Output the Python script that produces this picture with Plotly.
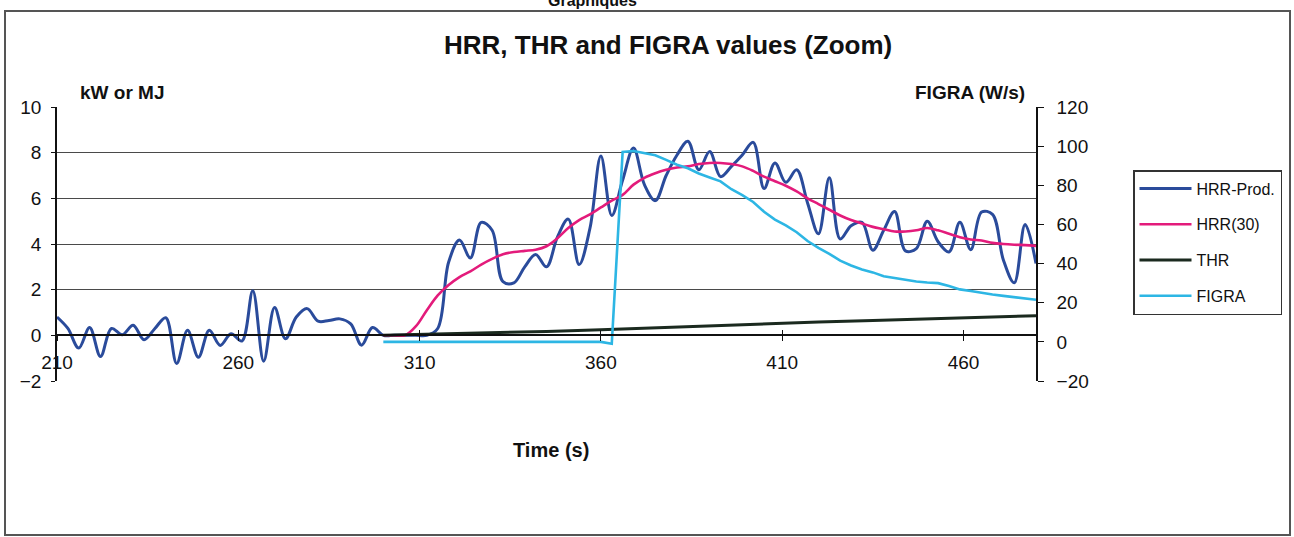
import plotly.graph_objects as go

# ---------------- data ----------------
t_hrr = list(range(210, 481, 3))
hrr_prod = [0.8, 0.3, -0.56, 0.34, -0.93, 0.3, 0.03, 0.44, -0.19, 0.3,
            0.77, -1.23, 0.22, -0.96, 0.22, -0.44, 0.07, -0.25, 1.95, -1.13,
            1.22, -0.15, 0.8, 1.17, 0.62, 0.65, 0.72, 0.5, -0.43, 0.34,
            0.0, 0.0, 0.0, 0.0, 0.0, 0.3, 3.2, 4.17, 3.39, 4.95,
            4.6, 2.35, 2.3, 3.0, 3.54, 3.0, 4.3, 5.09, 3.1, 4.7,
            7.85, 5.25, 6.8, 8.2, 6.6, 5.9, 7.0, 7.9, 8.5, 7.25,
            8.05, 6.95, 7.4, 7.9, 8.45, 6.43, 7.55, 6.7, 7.25, 5.8,
            4.45, 6.9, 4.22, 4.8, 4.95, 3.73, 4.6, 5.42, 3.7, 3.8,
            5.0, 4.1, 3.65, 4.95, 3.75, 5.4, 5.3, 3.3, 2.3, 4.85, 3.15]

t_30 = list(range(300, 481, 3))
hrr_30 = [0.0, 0.0, 0.0, 0.4, 1.1, 1.75, 2.2, 2.55, 2.8, 3.1,
          3.35, 3.55, 3.65, 3.7, 3.75, 3.9, 4.25, 4.7, 5.05, 5.3,
          5.6, 5.9, 6.15, 6.6, 6.9, 7.1, 7.25, 7.35, 7.4, 7.5,
          7.55, 7.55, 7.5, 7.4, 7.2, 6.95, 6.75, 6.55, 6.3, 6.0,
          5.75, 5.5, 5.25, 5.05, 4.9, 4.75, 4.65, 4.55, 4.55, 4.6,
          4.7, 4.6, 4.45, 4.3, 4.2, 4.15, 4.05, 4.0, 3.97, 3.95, 3.92]

t_thr = list(range(300, 481, 15))
thr = [0.0, 0.05, 0.1, 0.17, 0.24, 0.33, 0.42, 0.5, 0.58, 0.65, 0.72, 0.79, 0.86]

t_figra = list(range(300, 481, 3))
figra = [0, 0, 0, 0, 0, 0, 0, 0, 0, 0,
         0, 0, 0, 0, 0, 0, 0, 0, 0, 0,
         0, -1, 97, 97.5, 96.5, 95.3, 93, 90.5, 88.7, 86,
         84, 82, 78, 75, 71.5, 66.5, 62.5, 59.5, 56, 51.5,
         48, 45, 41.5, 39, 37, 35.5, 33.5, 32.5, 31.5, 30.8,
         30.3, 30, 28.5, 26.8, 26, 25, 24.2, 23.5, 22.8, 22.2, 21.5]

x_range = [210, 480]
y_left_range = [-2, 10]
y_right_range = [-20, 120]

# ---------------- layout geometry ----------------
W, H = 1294, 537
L, R, T, B = 57, 258, 107, 156
PW, PH = W - L - R, H - T - B


def px(x):
    return (x - L) / PW


def py(y):
    return (H - B - y) / PH


FONT = "Liberation Sans, Arial, sans-serif"

fig = go.Figure()
fig.add_trace(go.Scatter(x=t_hrr, y=hrr_prod, name="HRR-Prod.", mode="lines",
                         line=dict(color="#2a4b9b", width=3, shape="spline", smoothing=1.0),
                         legendgroup="a"))
fig.add_trace(go.Scatter(x=t_30, y=hrr_30, name="HRR(30)", mode="lines",
                         line=dict(color="#e31b7b", width=2.6, shape="spline", smoothing=1.0),
                         legendgroup="b"))
fig.add_trace(go.Scatter(x=t_thr, y=thr, name="THR", mode="lines",
                         line=dict(color="#1b2a1f", width=3), legendgroup="c"))
fig.add_trace(go.Scatter(x=t_figra, y=figra, name="FIGRA", mode="lines", yaxis="y2",
                         line=dict(color="#2db6e4", width=2.6), legendgroup="d"))

zero_pos = (0 - y_left_range[0]) / (y_left_range[1] - y_left_range[0])

fig.update_layout(
    width=W, height=H,
    margin=dict(l=L, r=R, t=T, b=B),
    paper_bgcolor="white", plot_bgcolor="white",
    font=dict(family=FONT, color="#111111", size=19),
    showlegend=True,
    legend=dict(xref="container", yref="container", x=1133 / W, y=1 - 170 / H,
                xanchor="left", yanchor="top", bordercolor="#333333", borderwidth=1.5,
                font=dict(size=16, family=FONT), traceorder="grouped", tracegroupgap=12,
                itemwidth=52, bgcolor="white"),
    xaxis=dict(range=x_range, tick0=210, dtick=50, anchor="free", position=zero_pos,
               showline=True, linecolor="#111111", linewidth=1.5,
               ticks="outside", ticklen=5, tickcolor="#111111", tickwidth=1.3,
               showgrid=False, zeroline=False, ticklabelstandoff=5,
               tickfont=dict(size=19)),
    xaxis2=dict(range=x_range, tick0=210, dtick=50, overlaying="x", anchor="free",
                position=zero_pos, ticks="inside", ticklen=5, tickcolor="#111111",
                tickwidth=1.3, showticklabels=False, showline=False, showgrid=False,
                zeroline=False),
    yaxis=dict(range=y_left_range, dtick=2, showline=True, linecolor="#111111",
               linewidth=1.5, ticks="outside", ticklen=4, tickcolor="#111111",
               showgrid=True, gridcolor="#4a4a4a", gridwidth=1.3, zeroline=False,
               ticklabelstandoff=6, tickfont=dict(size=19)),
    yaxis2=dict(range=y_right_range, dtick=20, overlaying="y", side="right",
                showline=True, linecolor="#111111", linewidth=1.5, ticks="outside",
                ticklen=6, tickcolor="#111111", showgrid=False, zeroline=False,
                ticklabelstandoff=9, tickfont=dict(size=19)),
)

# keep the invisible overlay axis alive
fig.add_trace(go.Scatter(x=x_range, y=[None, None], xaxis="x2", showlegend=False,
                         hoverinfo="skip"))

ann = [
    dict(text="HRR, THR and FIGRA values (Zoom)", x=px(668), y=py(45),
         font=dict(size=26, family=FONT, weight="bold")),
    dict(text="kW or MJ", x=px(121.5), y=py(93), font=dict(size=19, family=FONT, weight="bold")),
    dict(text="FIGRA (W/s)", x=px(970), y=py(93), font=dict(size=19, family=FONT, weight="bold")),
    dict(text="Time (s)", x=px(550.5), y=py(450), font=dict(size=20, family=FONT, weight="bold")),
    dict(text="Graphiques", x=px(592), y=py(0), font=dict(size=16, family=FONT, weight="bold")),
]
for a in ann:
    fig.add_annotation(xref="paper", yref="paper", showarrow=False,
                       xanchor="center", yanchor="middle", **a)

# outer chart border
fig.add_shape(type="rect", xref="paper", yref="paper",
              x0=px(5), x1=px(1290), y0=py(535), y1=py(11),
              line=dict(color="#555555", width=2), layer="below")

fig.write_html("out.html", config={"displayModeBar": False},
               post_script="document.body.style.margin='0px';")
